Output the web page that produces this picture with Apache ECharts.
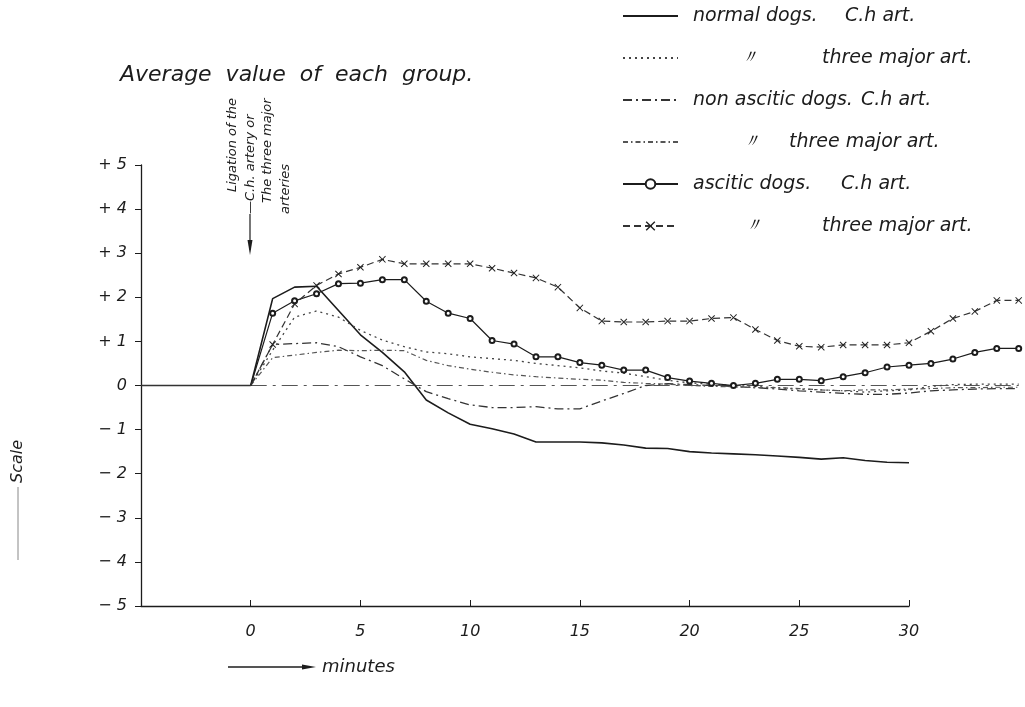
<!DOCTYPE html>
<html>
<head>
<meta charset="utf-8">
<script src="https://cdn.jsdelivr.net/npm/echarts@6/dist/echarts.min.js"></script>
<style>
html, body { margin: 0; padding: 0; background: #fff; }
#main { width: 1025px; height: 707px; }
</style>
</head>
<body>
<div id="main"></div>
<script>
// minutes after ligation
var minutes = [0, 1, 2, 3, 4, 5, 6, 7, 8, 9, 10, 11, 12, 13, 14, 15, 16, 17, 18, 19, 20,
	21, 22, 23, 24, 25, 26, 27, 28, 29, 30, 31, 32, 33, 34, 35];

// average value of each group (scale units)
var normalCh = [0, 1.97, 2.23, 2.25, 1.7, 1.15, 0.75, 0.31, -0.33, -0.62, -0.88, -0.98, -1.1, -1.28, -1.28,
	-1.28, -1.3, -1.35, -1.42, -1.43, -1.5, -1.53, -1.55, -1.57, -1.6, -1.63, -1.67, -1.64, -1.7, -1.74, -1.75];
var normalThree = [0, 0.8, 1.55, 1.69, 1.55, 1.25, 1.03, 0.88, 0.76, 0.72, 0.65, 0.61, 0.57, 0.5, 0.45,
	0.4, 0.33, 0.28, 0.2, 0.12, 0.06, 0.03, 0, -0.02, -0.05, -0.08, -0.1, -0.12, -0.15, -0.12, -0.1,
	-0.02, 0.02, 0.03, 0.03, 0.03];
var nonAsciticCh = [0, 0.93, 0.95, 0.97, 0.88, 0.65, 0.45, 0.15, -0.14, -0.3, -0.44, -0.5, -0.5, -0.48, -0.53,
	-0.53, -0.35, -0.18, 0, 0.04, 0.02, 0, -0.02, -0.05, -0.08, -0.12, -0.15, -0.18, -0.2, -0.2, -0.17,
	-0.12, -0.1, -0.08, -0.07, -0.07];
var nonAsciticThree = [0, 0.63, 0.69, 0.75, 0.8, 0.79, 0.8, 0.79, 0.57, 0.45, 0.37, 0.3, 0.24, 0.2, 0.17,
	0.14, 0.12, 0.07, 0.05, 0.03, 0, -0.02, -0.03, -0.05, -0.05, -0.07, -0.1, -0.12, -0.1, -0.1, -0.08,
	-0.07, -0.05, -0.05, -0.04, -0.04];
var asciticCh = [0, 1.64, 1.92, 2.08, 2.31, 2.32, 2.4, 2.4, 1.91, 1.64, 1.52, 1.02, 0.94, 0.65, 0.65,
	0.52, 0.46, 0.35, 0.35, 0.18, 0.1, 0.05, 0, 0.05, 0.14, 0.14, 0.11, 0.2, 0.29, 0.42, 0.46,
	0.5, 0.6, 0.75, 0.84, 0.84];
var asciticThree = [0, 0.93, 1.85, 2.27, 2.53, 2.68, 2.86, 2.76, 2.76, 2.76, 2.76, 2.66, 2.55, 2.44, 2.23,
	1.76, 1.46, 1.44, 1.44, 1.46, 1.46, 1.52, 1.54, 1.27, 1.02, 0.89, 0.87, 0.92, 0.92, 0.92, 0.97,
	1.23, 1.52, 1.68, 1.93, 1.93];

// zero line, before and after ligation
var baseMinutes = [-5, 0, 35];
var baseValues = [0, 0, 0];

var xTicks = [0, 5, 10, 15, 20, 25, 30];

var names = [
	'normal dogs. C.h art.',
	'normal dogs. three major art.',
	'non ascitic dogs. C.h art.',
	'non ascitic dogs. three major art.',
	'ascitic dogs. C.h art.',
	'ascitic dogs. three major art.'
];

var hand = 'DejaVu Sans';
var ink = '#1c1c1c';
var crossPath = 'path://M0,1L1,0L5,4L9,0L10,1L6,5L10,9L9,10L5,6L1,10L0,9L4,5Z';

// the drawn axis stops at 30 min but the curves run on to 35
var plotLeft = 141;
var axisRight = 116;
var pxPerMin = (1025 - plotLeft - axisRight) / 35;
var plotRight = 1025 - plotLeft - pxPerMin * 40;

function pairs(vals) {
	var out = [];
	for (var i = 0; i < vals.length; i++) {
		var p = { value: [minutes[i], vals[i]] };
		if (i === 0) p.symbol = 'none';
		out.push(p);
	}
	return out;
}

var legendText = {};
legendText[names[0]] = '{sp| }{n1|normal dogs.}{c|C.h art.}';
legendText[names[1]] = '{sp| }{e2| }{d2|〃}{t|three major art.}';
legendText[names[2]] = '{sp| }{n3|non ascitic dogs.}{c|C.h art.}';
legendText[names[3]] = '{sp| }{e4| }{d4|〃}{t|three major art.}';
legendText[names[4]] = '{sp| }{n5|ascitic dogs.}{c|C.h art.}';
legendText[names[5]] = '{sp| }{e6| }{d6|〃}{t|three major art.}';

// legend entries; plain lines hide the marker dot
var legendData = [];
for (var k = 0; k < names.length; k++) {
	if (k < 4) {
		legendData.push({ name: names[k], itemStyle: { opacity: 0 } });
	} else {
		legendData.push({ name: names[k] });
	}
}

var myChart = echarts.init(document.getElementById('main'));

var option = {
	backgroundColor: '#fff',
	animation: false,
	grid: [{
			left: plotLeft,
			right: axisRight,
			top: 165,
			bottom: 101
		},
		{
			left: plotLeft,
			right: plotRight,
			top: 165,
			bottom: 101
		}
	],
	legend: {
		data: legendData,
		orient: 'vertical',
		left: 617,
		top: 0,
		itemWidth: 55,
		itemHeight: 12,
		itemGap: 20,
		selectedMode: false,
		formatter: function(name) {
			return legendText[name];
		},
		textStyle: {
			color: ink,
			fontFamily: hand,
			fontStyle: 'italic',
			fontSize: 19,
			lineHeight: 22,
			rich: {
				sp: { width: 10 },
				n1: { width: 152 },
				n3: { width: 168 },
				n5: { width: 148 },
				c: {},
				t: {},
				e2: { width: 47 },
				d2: { width: 82 },
				e4: { width: 49 },
				d4: { width: 47 },
				e6: { width: 51 },
				d6: { width: 78 }
			}
		}
	},
	xAxis: [{
			gridIndex: 0,
			type: 'value',
			min: -5,
			max: 30,
			interval: 5,
			splitLine: { show: false },
			axisLine: { onZero: false, lineStyle: { color: ink, width: 1.3 } },
			axisTick: { inside: true, length: 6, lineStyle: { color: ink } },
			axisLabel: {
				margin: 18,
				color: ink,
				fontFamily: hand,
				fontStyle: 'italic',
				fontSize: 16,
				formatter: function(v) {
					return xTicks.indexOf(v) >= 0 ? String(v) : '';
				}
			}
		},
		{
			gridIndex: 1,
			type: 'value',
			min: -5,
			max: 35,
			show: false
		}
	],
	yAxis: [{
			gridIndex: 0,
			type: 'value',
			min: -5,
			max: 5,
			interval: 1,
			splitLine: { show: false },
			axisLine: { show: true, onZero: false, lineStyle: { color: ink, width: 1.3 } },
			axisTick: { show: true, length: 6, lineStyle: { color: ink } },
			axisLabel: {
				margin: 14,
				color: ink,
				fontFamily: hand,
				fontStyle: 'italic',
				fontSize: 16,
				formatter: function(v) {
					if (v > 0) return '+ ' + v;
					if (v < 0) return '\u2212 ' + Math.abs(v);
					return '0';
				}
			}
		},
		{
			gridIndex: 1,
			type: 'value',
			min: -5,
			max: 5,
			show: false
		}
	],
	series: [{
			// zero line before ligation
			type: 'line',
			xAxisIndex: 1,
			yAxisIndex: 1,
			silent: true,
			symbol: 'none',
			lineStyle: { color: '#333', width: 1.3 },
			data: [[baseMinutes[0], baseValues[0]], [baseMinutes[1], baseValues[1]]]
		},
		{
			type: 'line',
			xAxisIndex: 1,
			yAxisIndex: 1,
			silent: true,
			symbol: 'none',
			lineStyle: { color: '#555', width: 1.2, type: [16, 6, 3, 6] },
			data: [[baseMinutes[1], baseValues[1]], [baseMinutes[2], baseValues[2]]]
		},
		{
			name: names[0],
			type: 'line',
			xAxisIndex: 1,
			yAxisIndex: 1,
			symbol: 'none',
			color: ink,
			lineStyle: { color: ink, width: 1.6 },
			data: pairs(normalCh)
		},
		{
			name: names[1],
			type: 'line',
			xAxisIndex: 1,
			yAxisIndex: 1,
			symbol: 'none',
			color: '#444',
			lineStyle: { color: '#444', width: 1.3, type: [2, 4] },
			data: pairs(normalThree)
		},
		{
			name: names[2],
			type: 'line',
			xAxisIndex: 1,
			yAxisIndex: 1,
			symbol: 'none',
			color: '#333',
			lineStyle: { color: '#333', width: 1.3, type: [9, 4, 2, 4] },
			data: pairs(nonAsciticCh)
		},
		{
			name: names[3],
			type: 'line',
			xAxisIndex: 1,
			yAxisIndex: 1,
			symbol: 'none',
			color: '#555',
			lineStyle: { color: '#555', width: 1.2, type: [5, 3, 1.5, 3] },
			data: pairs(nonAsciticThree)
		},
		{
			name: names[4],
			type: 'line',
			xAxisIndex: 1,
			yAxisIndex: 1,
			symbol: 'emptyCircle',
			symbolSize: 5,
			color: ink,
			itemStyle: { color: ink, borderWidth: 1 },
			lineStyle: { color: ink, width: 1.2 },
			data: pairs(asciticCh)
		},
		{
			name: names[5],
			type: 'line',
			xAxisIndex: 1,
			yAxisIndex: 1,
			symbol: crossPath,
			symbolSize: 7,
			color: '#333',
			itemStyle: { color: '#222' },
			lineStyle: { color: '#333', width: 1.2, type: [7, 4] },
			data: pairs(asciticThree)
		}
	],
	graphic: [{
			type: 'text',
			left: 120,
			top: 64,
			style: {
				text: 'Average  value  of  each  group.',
				fill: ink,
				font: 'italic 22px "DejaVu Sans"'
			}
		},
		// ligation note, written upward
		{
			type: 'text', x: 233, y: 192, rotation: Math.PI / 2,
			style: { text: 'Ligation of the', fill: ink, font: 'italic 13px "DejaVu Sans"', textAlign: 'left', textVerticalAlign: 'middle' }
		},
		{
			type: 'text', x: 251, y: 214, rotation: Math.PI / 2,
			style: { text: '\u2014C.h. artery or', fill: ink, font: 'italic 13px "DejaVu Sans"', textAlign: 'left', textVerticalAlign: 'middle' }
		},
		{
			type: 'text', x: 268, y: 203, rotation: Math.PI / 2,
			style: { text: 'The three major', fill: ink, font: 'italic 13px "DejaVu Sans"', textAlign: 'left', textVerticalAlign: 'middle' }
		},
		{
			type: 'text', x: 286, y: 214, rotation: Math.PI / 2,
			style: { text: 'arteries', fill: ink, font: 'italic 13px "DejaVu Sans"', textAlign: 'left', textVerticalAlign: 'middle' }
		},
		{
			type: 'line',
			shape: { x1: 250, y1: 214, x2: 250, y2: 250 },
			style: { stroke: ink, lineWidth: 1.2 }
		},
		{
			type: 'polygon',
			shape: { points: [[247.5, 240], [252.5, 240], [250, 255]] },
			style: { fill: ink }
		},
		// y axis name
		{
			type: 'text', x: 18, y: 483, rotation: Math.PI / 2,
			style: { text: 'Scale', fill: ink, font: 'italic 16px "DejaVu Sans"', textAlign: 'left', textVerticalAlign: 'middle' }
		},
		{
			type: 'line',
			shape: { x1: 18, y1: 487, x2: 18, y2: 560 },
			style: { stroke: '#888', lineWidth: 1 }
		},
		// x axis name
		{
			type: 'line',
			shape: { x1: 228, y1: 667, x2: 310, y2: 667 },
			style: { stroke: ink, lineWidth: 1.3 }
		},
		{
			type: 'polygon',
			shape: { points: [[302, 664.5], [302, 669.5], [316, 667]] },
			style: { fill: ink }
		},
		{
			type: 'text', x: 322, y: 667,
			style: { text: 'minutes', fill: ink, font: 'italic 18px "DejaVu Sans"', textAlign: 'left', textVerticalAlign: 'middle' }
		}
	]
};

myChart.setOption(option);

window.addEventListener('resize', function() {
	myChart.resize();
});
</script>
</body>
</html>
